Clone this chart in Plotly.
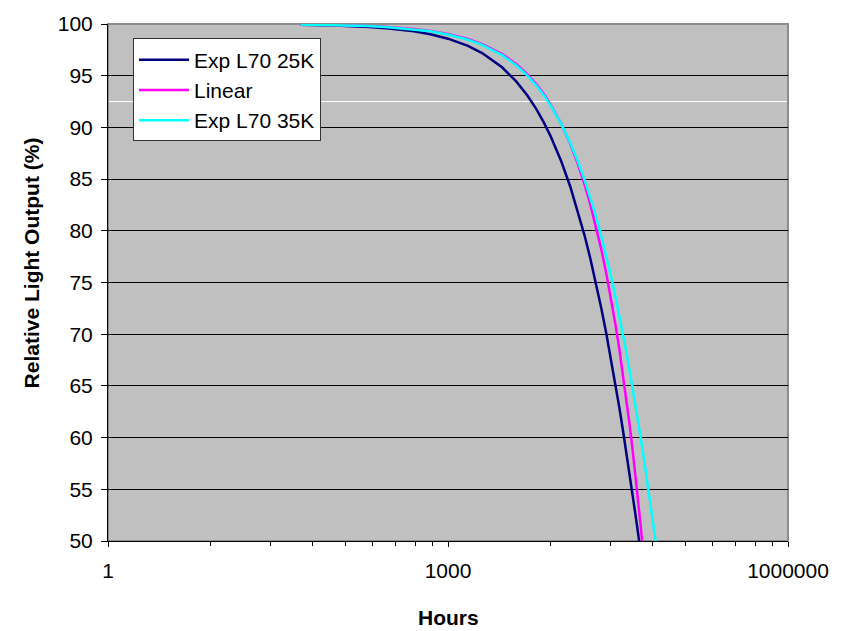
import plotly.graph_objects as go

# Hours (x) shared by all series
hours = [50, 100, 200, 300, 500, 700, 1000, 1500, 2000, 3000, 4000, 5000, 6000, 7000,
         8000, 10000, 12000, 14000, 16000, 18000, 20000, 22500, 25000, 27500, 30000,
         32500, 35000, 37500, 40000, 42500, 45000, 47500, 50000, 55000, 60000, 65000, 70000]

# Relative light output (%)
exp_l70_25k = [99.93, 99.86, 99.71, 99.57, 99.29, 99.00, 98.58, 97.88, 97.19, 95.81, 94.45,
               93.11, 91.79, 90.49, 89.21, 86.70, 84.26, 81.89, 79.59, 77.35, 75.17, 72.54,
               70.00, 67.55, 65.18, 62.90, 60.69, 58.57, 56.51, 54.53, 52.62, 50.78, 49.00,
               None, None, None, None]
linear = [99.95, 99.90, 99.81, 99.71, 99.52, 99.32, 99.03, 98.55, 98.06, 97.10, 96.13,
          95.16, 94.19, 93.23, 92.26, 90.32, 88.39, 86.45, 84.52, 82.58, 80.65, 78.23,
          75.81, 73.39, 70.97, 68.55, 66.13, 63.71, 61.29, 58.87, 56.45, 54.03, 51.61,
          46.77, None, None, None]
exp_l70_35k = [99.95, 99.90, 99.80, 99.69, 99.49, 99.29, 98.98, 98.48, 97.98, 96.99, 96.01,
               95.03, 94.07, 93.12, 92.17, 90.31, 88.48, 86.70, 84.95, 83.24, 81.56, 79.51,
               77.51, 75.56, 73.66, 71.81, 70.00, 68.24, 66.52, 64.85, 63.22, 61.63, 60.08,
               57.09, 54.26, 51.56, 49.00]

series_names = ["Exp L70 25K", "Linear", "Exp L70 35K"]
series_colors = ["#000080", "#FF00FF", "#00FFFF"]

x_major = [1, 1000, 1000000]
x_major_text = ["1", "1000", "1000000"]
x_minor = [8, 27, 64, 125, 216, 343, 512, 729,
           8000, 27000, 64000, 125000, 216000, 343000, 512000, 729000]
y_ticks = [50, 55, 60, 65, 70, 75, 80, 85, 90, 95, 100]

FONT = "Liberation Sans, Arial, sans-serif"

fig = go.Figure()
for name, vals, col in zip(series_names, [exp_l70_25k, linear, exp_l70_35k], series_colors):
    fig.add_trace(go.Scatter(x=hours, y=vals, mode="lines", name=name,
                             line=dict(color=col, width=2.5), connectgaps=False))

fig.update_layout(
    width=848, height=631,
    margin=dict(l=108, r=60, t=19, b=90),
    paper_bgcolor="white",
    plot_bgcolor="#C0C0C0",
    font=dict(family=FONT, size=21, color="black"),
    showlegend=True,
    legend=dict(x=0.0368, y=0.972, xanchor="left", yanchor="top",
                bgcolor="white", bordercolor="#333333", borderwidth=1,
                font=dict(family=FONT, size=21, color="black"),
                itemwidth=50, tracegroupgap=0),
    xaxis=dict(type="log", range=[0, 6], tickmode="array", tickvals=x_major,
               ticktext=x_major_text, ticks="outside", ticklen=5, tickcolor="black",
               ticklabelstandoff=6,
               showgrid=False, showline=True, linecolor="black", linewidth=1,
               zeroline=False,
               minor=dict(tickmode="array", tickvals=x_minor, ticks="outside",
                          ticklen=4, tickcolor="black", showgrid=False),
               tickfont=dict(family=FONT, size=21)),
    yaxis=dict(range=[50, 100], tickmode="array", tickvals=y_ticks, ticks="outside",
               ticklen=6, tickcolor="black", ticklabelstandoff=4,
               showgrid=True, gridcolor="black",
               gridwidth=1, showline=True, linecolor="black", linewidth=1,
               zeroline=False, tickfont=dict(family=FONT, size=21)),
    shapes=[
        dict(type="line", xref="paper", yref="y", x0=0, x1=1, y0=92.5, y1=92.5,
             line=dict(color="white", width=1), layer="between"),
        dict(type="rect", xref="paper", yref="paper", x0=0, x1=1, y0=0, y1=1,
             line=dict(color="#8c8c8c", width=2), layer="between"),
    ],
    annotations=[
        dict(text="<b>Hours</b>", xref="paper", yref="paper", x=0.5, y=0,
             xanchor="center", yanchor="middle", yshift=-76, showarrow=False,
             font=dict(family=FONT, size=21)),
        dict(text="<b>Relative Light Output (%)</b>", xref="paper", yref="paper",
             x=-0.1122, y=0.5383, xanchor="center", yanchor="middle", textangle=-90,
             showarrow=False, font=dict(family=FONT, size=21)),
    ],
)

fig.write_html("out.html", config={"displayModeBar": False},
               post_script="document.body.style.margin='0';document.body.style.overflow='hidden';")
